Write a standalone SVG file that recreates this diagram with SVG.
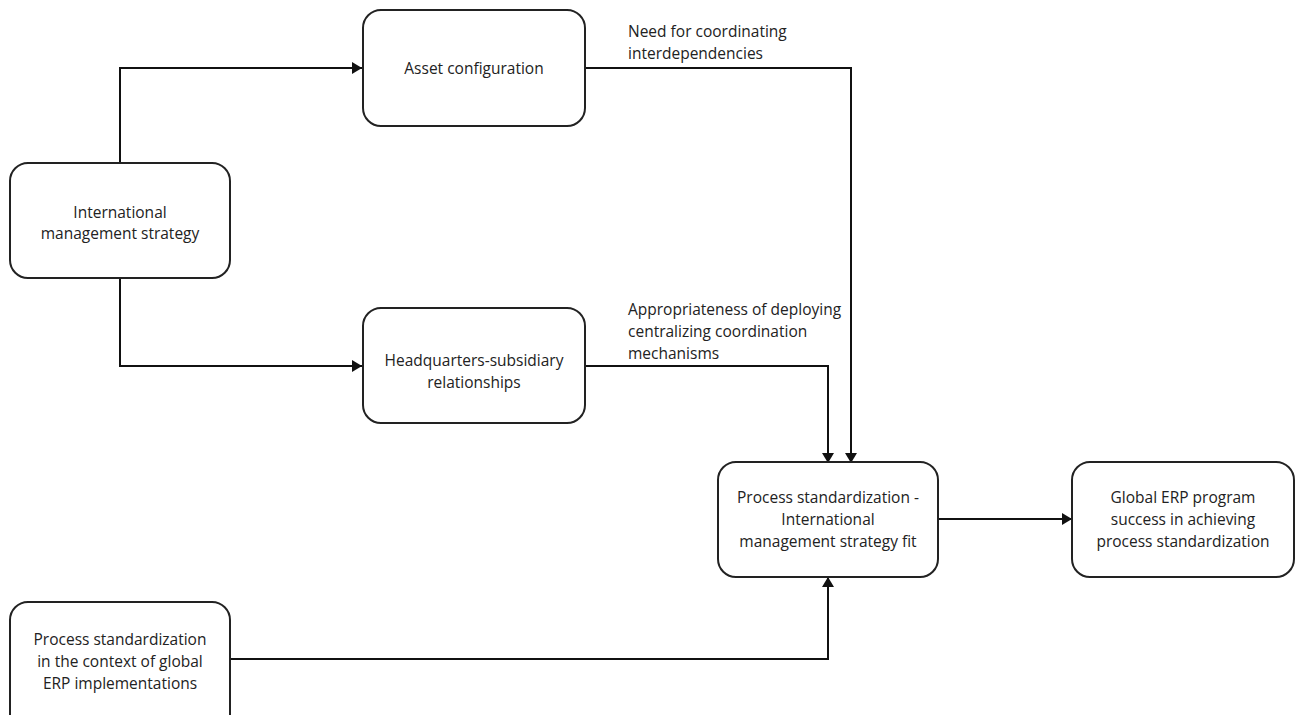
<svg xmlns="http://www.w3.org/2000/svg" width="1295" height="715" viewBox="0 0 1295 715">
<style>
.box{fill:#fff;stroke:#222;stroke-width:2}
.t{font-family:"Open Sans","Liberation Sans",sans-serif;font-size:15.5px;fill:#222;text-anchor:middle}
.l{font-family:"Open Sans","Liberation Sans",sans-serif;font-size:15.5px;fill:#222}
.c{fill:none;stroke:#111;stroke-width:2}
</style>
<defs>
<marker id="ah" markerWidth="10" markerHeight="12" refX="10" refY="6" orient="auto" markerUnits="userSpaceOnUse">
<path d="M0,0 L10,6 L0,12 Z" fill="#111"/>
</marker>
</defs>
<rect width="1295" height="715" fill="#fff"/>
<g id="connectors">
<path class="c" d="M120,163 V68 H362" marker-end="url(#ah)"/>
<path class="c" d="M120,278 V366 H362" marker-end="url(#ah)"/>
<path class="c" d="M585,68 H851 V463" marker-end="url(#ah)"/>
<path class="c" d="M585,366 H828 V463" marker-end="url(#ah)"/>
<path class="c" d="M230,659 H828 V577" marker-end="url(#ah)"/>
<path class="c" d="M938,519 H1072" marker-end="url(#ah)"/>
<text class="l" x="628" y="37">Need for coordinating</text>
<text class="l" x="628" y="59">interdependencies</text>
<text class="l" x="628" y="315">Appropriateness of deploying</text>
<text class="l" x="628" y="337">centralizing coordination</text>
<text class="l" x="628" y="359">mechanisms</text>
</g>
<g id="ims">
<rect class="box" x="10" y="163" width="220" height="115" rx="18"/>
<text class="t" x="120" y="218">International</text>
<text class="t" x="120" y="239">management strategy</text>
</g>
<g id="asset">
<rect class="box" x="363" y="10" width="222" height="116" rx="18"/>
<text class="t" x="474" y="74">Asset configuration</text>
</g>
<g id="hq">
<rect class="box" x="363" y="308" width="222" height="115" rx="18"/>
<text class="t" x="474" y="366">Headquarters-subsidiary</text>
<text class="t" x="474" y="388">relationships</text>
</g>
<g id="fit">
<rect class="box" x="718" y="462" width="220" height="115" rx="18"/>
<text class="t" x="828" y="503">Process standardization -</text>
<text class="t" x="828" y="525">International</text>
<text class="t" x="828" y="547">management strategy fit</text>
</g>
<g id="erp">
<rect class="box" x="1072" y="462" width="222" height="115" rx="18"/>
<text class="t" x="1183" y="503">Global ERP program</text>
<text class="t" x="1183" y="525">success in achieving</text>
<text class="t" x="1183" y="547">process standardization</text>
</g>
<g id="psc">
<rect class="box" x="10" y="602" width="220" height="130" rx="18"/>
<text class="t" x="120" y="645">Process standardization</text>
<text class="t" x="120" y="667">in the context of global</text>
<text class="t" x="120" y="689">ERP implementations</text>
</g>
</svg>
